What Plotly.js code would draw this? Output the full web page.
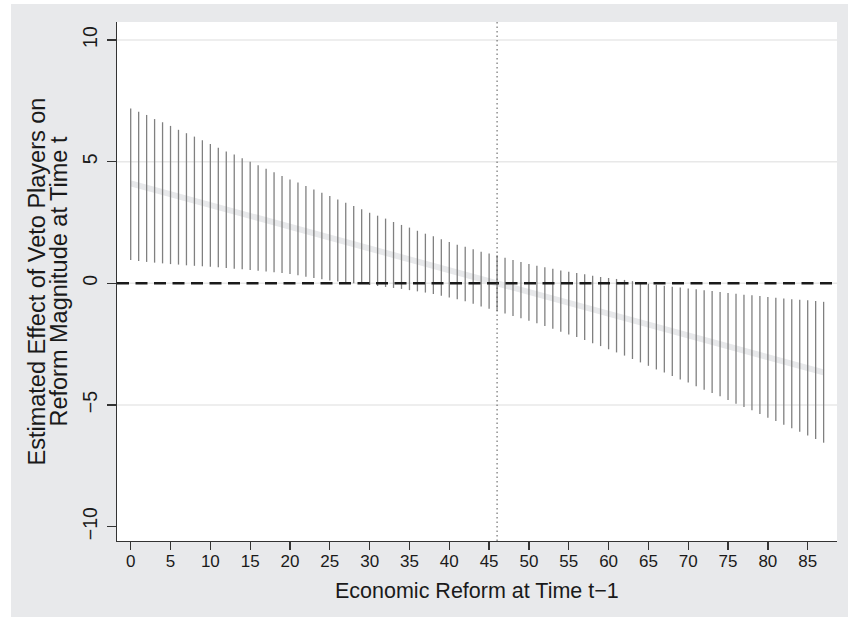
<!DOCTYPE html>
<html>
<head>
<meta charset="utf-8">
<script src="https://cdn.plot.ly/plotly-3.0.1.min.js"></script>
<style>
  html, body { margin: 0; padding: 0; background: #ffffff; width: 848px; height: 617px; overflow: hidden; }
  #chart { position: absolute; left: 11px; top: 4px; width: 837px; height: 613px; }
</style>
</head>
<body>
<div id="chart"></div>
<script>
// Economic reform at time t-1 (x positions of the confidence intervals)
const reformLevels = [0,1,2,3,4,5,6,7,8,9,10,11,12,13,14,15,16,17,18,19,20,21,22,23,24,25,26,27,28,29,
  30,31,32,33,34,35,36,37,38,39,40,41,42,43,44,45,46,47,48,49,50,51,52,53,54,55,56,57,58,59,
  60,61,62,63,64,65,66,67,68,69,70,71,72,73,74,75,76,77,78,79,80,81,82,83,84,85,86,87];

// Upper bound of the confidence interval
const upperCI = [7.19,7.05,6.92,6.75,6.62,6.47,6.31,6.17,6.03,5.88,5.73,5.57,5.42,5.29,5.14,5.00,4.85,4.71,4.57,4.41,
  4.27,4.14,4.00,3.86,3.72,3.59,3.45,3.31,3.18,3.04,2.90,2.78,2.66,2.52,2.40,2.29,2.16,2.04,1.93,1.81,
  1.70,1.59,1.50,1.40,1.30,1.23,1.15,1.05,0.96,0.88,0.79,0.72,0.66,0.60,0.53,0.48,0.42,0.37,0.31,0.26,
  0.22,0.18,0.14,0.09,0.03,-0.02,-0.06,-0.10,-0.14,-0.17,-0.21,-0.24,-0.28,-0.32,-0.36,-0.40,-0.43,-0.47,-0.49,-0.52,
  -0.56,-0.59,-0.62,-0.65,-0.67,-0.70,-0.73,-0.76];

// Lower bound of the confidence interval
const lowerCI = [0.96,0.92,0.88,0.85,0.82,0.79,0.77,0.74,0.72,0.70,0.68,0.66,0.63,0.60,0.58,0.55,0.52,0.49,0.46,0.42,
  0.38,0.33,0.27,0.22,0.17,0.12,0.07,0.03,0.00,-0.03,-0.07,-0.11,-0.15,-0.19,-0.23,-0.28,-0.33,-0.38,-0.44,-0.51,
  -0.58,-0.65,-0.74,-0.84,-0.95,-1.04,-1.14,-1.24,-1.34,-1.44,-1.54,-1.64,-1.75,-1.87,-1.99,-2.10,-2.21,-2.33,-2.46,-2.58,
  -2.71,-2.84,-2.97,-3.11,-3.25,-3.39,-3.54,-3.67,-3.81,-3.95,-4.08,-4.23,-4.37,-4.51,-4.64,-4.80,-4.95,-5.08,-5.22,-5.37,
  -5.52,-5.66,-5.81,-5.96,-6.10,-6.25,-6.40,-6.55];

// Point estimate of the marginal effect (straight line read at a few points)
const estimateX = [0, 21, 45, 64, 87];
const estimateY = [4.11, 2.24, 0.10, -1.60, -3.66];

// Reference lines
const zeroEffect = 0;
const referenceReform = 46;

// Axis ticks and titles
const xTicks = [0,5,10,15,20,25,30,35,40,45,50,55,60,65,70,75,80,85];
const yTicks = [-10,-5,0,5,10];
const yTickText = ["\u221210","\u22125","0","5","10"];
const yGridVals = [10,5,0,-5];
const xTitle = 'Economic Reform at Time t\u22121';
const yTitleLines = ['Estimated Effect of Veto Players on', 'Reform Magnitude at Time t'];

// Build segment arrays for the CI spikes
const segX = [], segY = [];
reformLevels.forEach((x, i) => {
  segX.push(x, x, null);
  segY.push(lowerCI[i], upperCI[i], null);
});

const traces = [
  {
    x: estimateX, y: estimateY, type: 'scatter', mode: 'lines',
    line: {color: '#e8e9eb', width: 6}, hoverinfo: 'skip', showlegend: false
  },
  {
    x: segX, y: segY, type: 'scatter', mode: 'lines',
    line: {color: '#808080', width: 1.3}, hoverinfo: 'skip', showlegend: false
  }
];

const shapes = [];
yGridVals.forEach(v => {
  shapes.push({type: 'line', xref: 'paper', yref: 'y', x0: 0, x1: 1, y0: v, y1: v,
    line: {color: '#e8e8e8', width: 1.5}, layer: 'below'});
});
shapes.push({type: 'line', xref: 'paper', yref: 'y', x0: 0, x1: 1, y0: zeroEffect, y1: zeroEffect,
  line: {color: '#1a1a1a', width: 2.6, dash: '12px,6.5px'}, layer: 'above'});
shapes.push({type: 'line', xref: 'x', yref: 'paper', x0: referenceReform, x1: referenceReform, y0: 0, y1: 1,
  line: {color: '#555555', width: 1, dash: '1.5px,3px'}, layer: 'above'});

const fontFam = '"Liberation Sans", Arial, Helvetica, sans-serif';

const annotations = [
  {text: xTitle, xref: 'paper', yref: 'paper', x: 0.5, y: -0.097, xanchor: 'center', yanchor: 'middle',
   showarrow: false, font: {size: 21.5, color: '#1a1a1a'}},
  {text: yTitleLines[0], xref: 'paper', yref: 'paper', x: -0.1125, y: 0.5, xanchor: 'center', yanchor: 'middle',
   textangle: -90, showarrow: false, font: {size: 23.5, color: '#1a1a1a'}},
  {text: yTitleLines[1], xref: 'paper', yref: 'paper', x: -0.0819, y: 0.5, xanchor: 'center', yanchor: 'middle',
   textangle: -90, showarrow: false, font: {size: 23.5, color: '#1a1a1a'}}
];

const layout = {
  width: 837, height: 613,
  margin: {l: 106, r: 11, t: 18, b: 76},
  paper_bgcolor: '#e8e9eb',
  plot_bgcolor: '#ffffff',
  font: {family: fontFam, color: '#1a1a1a', size: 16},
  showlegend: false,
  xaxis: {
    range: [-1.72, 88.68],
    tickvals: xTicks,
    ticks: 'outside', ticklen: 8, tickwidth: 1.3, tickcolor: '#333333',
    ticklabelstandoff: -4,
    showgrid: false, zeroline: false,
    showline: true, linecolor: '#333333', linewidth: 1.3,
    tickfont: {size: 17}
  },
  yaxis: {
    range: [-10.59, 10.74],
    tickvals: yTicks, ticktext: yTickText, tickangle: -90,
    ticks: 'outside', ticklen: 9, tickwidth: 1.3, tickcolor: '#333333',
    ticklabelstandoff: 2,
    showgrid: false, zeroline: false,
    showline: true, linecolor: '#333333', linewidth: 1.3,
    tickfont: {size: 19.5}
  },
  shapes: shapes,
  annotations: annotations
};

Plotly.newPlot('chart', traces, layout, {displayModeBar: false, staticPlot: true});
</script>
</body>
</html>
